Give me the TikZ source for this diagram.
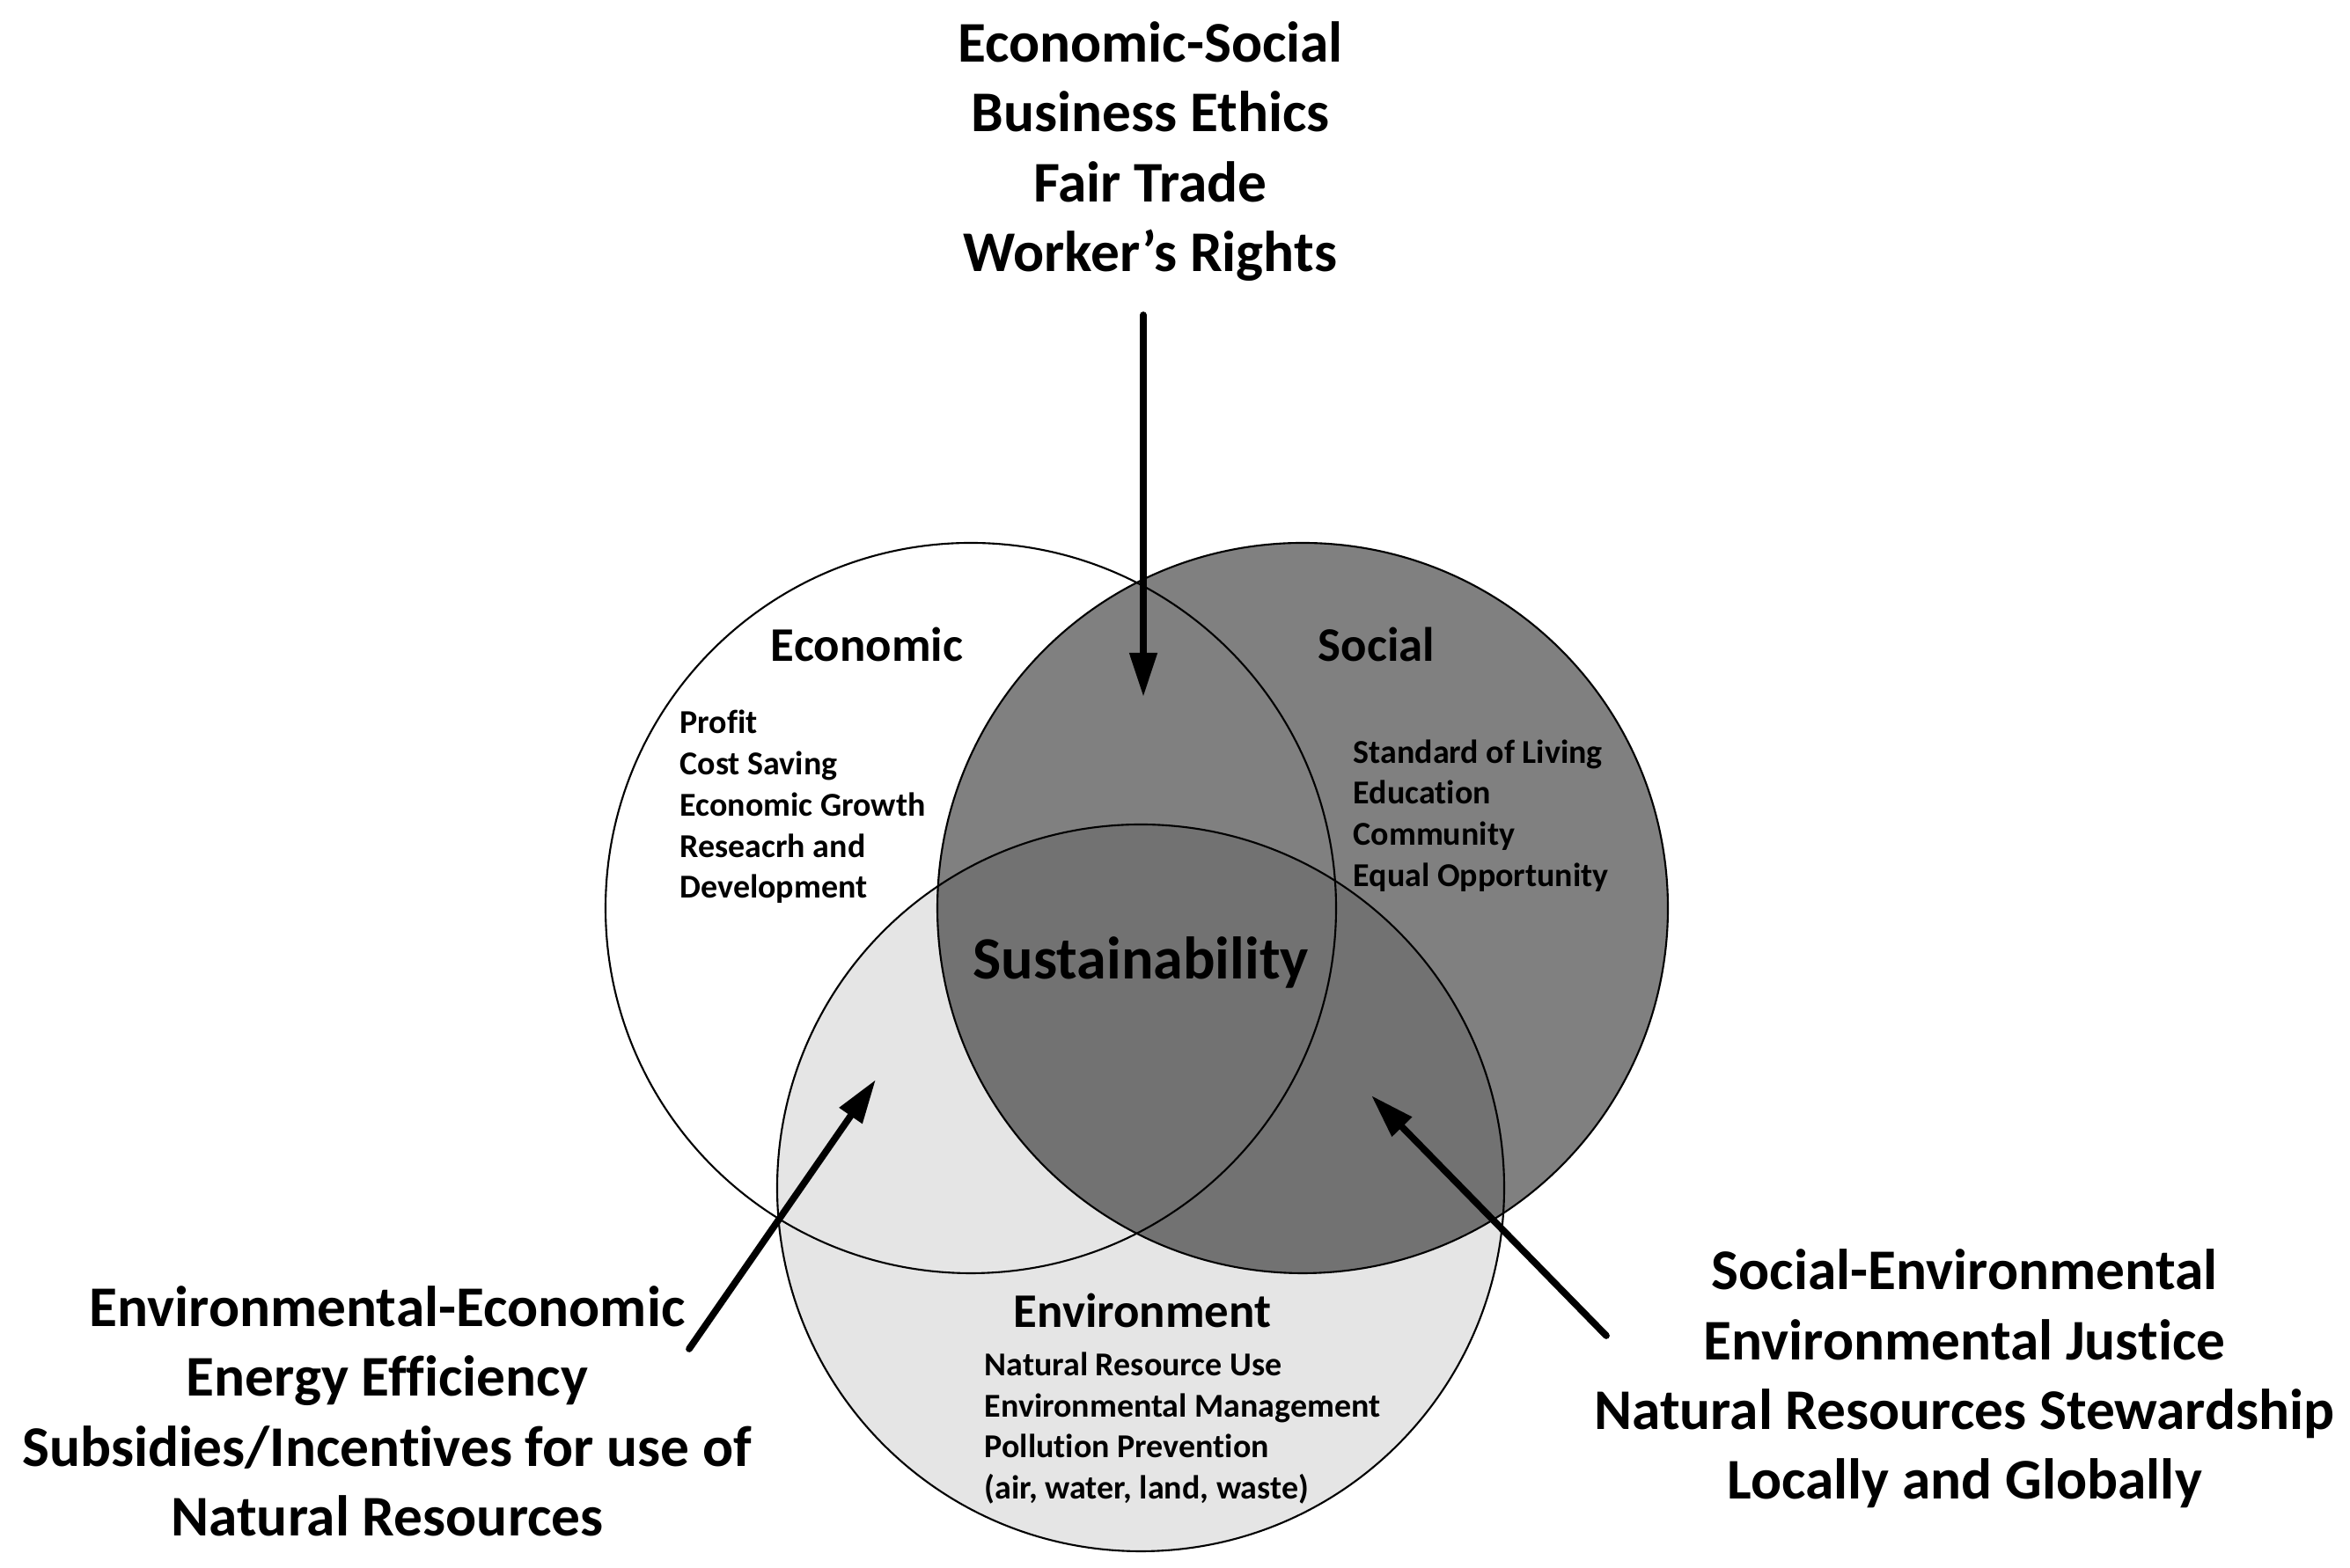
\documentclass[tikz,border=0pt]{standalone}
\usepackage{fontspec}
\setmainfont{Carlito}[Ligatures=NoCommon]
\usetikzlibrary{arrows.meta}

\tikzset{
	ring/.style={line width=0.6pt},
	bigtext/.style={font=\fontsize{18.6}{22.6}\selectfont\bfseries, align=center},
	headtext/.style={font=\fontsize{15.6}{18}\selectfont\bfseries},
	listtext/.style={font=\fontsize{10.8}{13.3}\selectfont\bfseries, align=left, anchor=west, inner sep=0pt},
}

\begin{document}
\begin{tikzpicture}[->, >={Triangle[length=5mm, width=3mm]}, line cap=round]
		\useasboundingbox (0, 0) rectangle (26.7, 17.82);

		\coordinate (eco) at (11.03, 7.50);
		\coordinate (soc) at (14.80, 7.50);
		\coordinate (env) at (12.96, 4.32);

		% circles
		\fill[white] (eco) circle (4.15);
		\fill[gray] (soc) circle (4.15);
		\fill[black, fill opacity=0.1] (env) circle (4.13);
		\draw[ring, -] (eco) circle (4.15);
		\draw[ring, -] (soc) circle (4.15);
		\draw[ring, -] (env) circle (4.13);

		\node[headtext] (ecohead) at (9.85, 10.50) {Economic};
		\node[headtext] (sochead) at (15.64, 10.50) {Social};
		\node[headtext] (envhead) at (12.98, 2.93) {Environment};
		\node[font=\fontsize{19.4}{23}\selectfont\bfseries] (sus) at (12.96, 6.88) {Sustainability};

		\node[listtext] (ecolist) at (7.72, 8.65) {Profit\\Cost Saving\\Economic Growth\\Reseacrh and\\Development};
		\node[listtext] (soclist) at (15.37, 8.55) {Standard of Living\\Education\\Community\\Equal Opportunity};
		\node[listtext] (envlist) at (11.18, 1.59) {Natural Resource Use\\Environmental Management\\Pollution Prevention\\(air, water, land, waste)};

		\node[bigtext] (es) at (13.07, 16.10) {Economic-Social\\Business Ethics\\Fair Trade\\Worker's Rights};
		\node[bigtext] (ee) at (4.40, 1.78) {Environmental-Economic\\Energy Efficiency\\Subsidies/Incentives for use of\\Natural Resources};
		\node[bigtext] (se) at (22.32, 2.15) {Social-Environmental\\Environmental Justice\\Natural Resources Stewardship\\Locally and Globally};

		\coordinate (estail) at (12.99, 14.24);
		\coordinate (estip) at (12.99, 9.90);
		\coordinate (eetail) at (7.83, 2.49);
		\coordinate (eetip) at (9.95, 5.55);
		\coordinate (setail) at (18.25, 2.64);
		\coordinate (setip) at (15.58, 5.37);

		\path[line width=2.2pt] (estail) edge (estip)
			(eetail) edge (eetip)
			(setail) edge (setip);
	\end{tikzpicture}
\end{document}
